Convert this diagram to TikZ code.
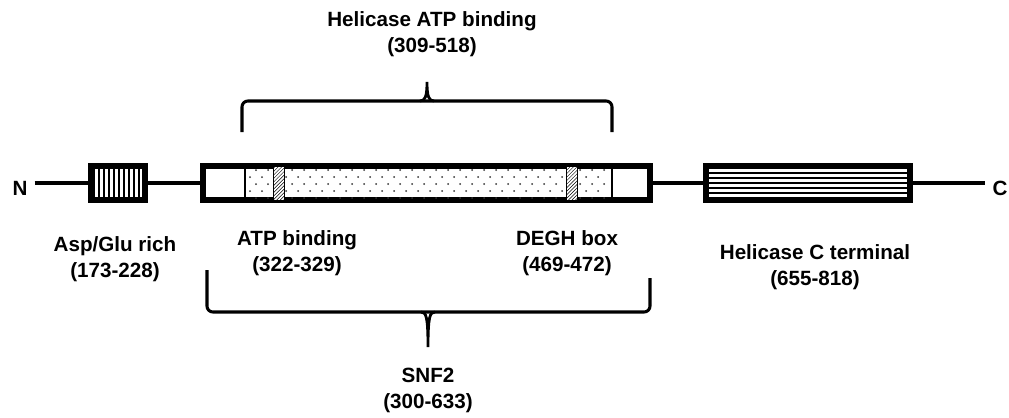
\documentclass[tikz,border=0pt]{standalone}
\usepackage{fontspec}
\setmainfont{Liberation Sans}
\usetikzlibrary{patterns,positioning}

\begin{document}
\begin{tikzpicture}[x=0.03cm,y=-0.03cm]
	\definecolor{color1}{gray}{0.}
	\definecolor{color2}{gray}{0.2}
	\tikzset{
		dombox/.style={draw=color1, line width=5pt, fill=white, inner sep=0pt, minimum height=1.02cm},
		lbl/.style={font=\fontsize{17.6}{22.2}\selectfont\bfseries, align=center, text=color1},
		bracket/.style={line width=2.6pt, rounded corners=5pt, color1},
		tip/.style={line width=2.4pt, color1},
		chainline/.style={line width=2.6pt, color1},
		stripe/.style={line width=1.5pt, color1}
	}
	\useasboundingbox (0,0) rectangle (1009,417);
	%% Ends ------
	\node[lbl] (nterm) at (20,188) {N};
	\node[lbl] (cterm) at (1000,188) {C};
	%% Domains ---------
	\node[dombox, minimum width=1.62cm] (acid) at (118,183) {};
	\node[dombox, minimum width=13.41cm] (snf) at (426.5,183) {};
	\node[dombox, minimum width=6.12cm] (hel) at (808,183) {};
	%% Chain ---------
	\draw[chainline] (nterm.east) ++(3,-5) coordinate (n0) -- (acid.west);
	\draw[chainline] (acid.east) -- (snf.west);
	\draw[chainline] (snf.east) -- (hel.west);
	\draw[chainline] (hel.east) -- ++(72,0) coordinate (c0);
	%% Asp/Glu stripes
	\foreach \x in {94,99,...,144}
		\draw[stripe] (\x,166) -- (\x,200);
	%% SNF2 inner parts
	\foreach \y [count=\i] in {170,177,...,198}
		\foreach \x in {250,262,...,606}
			\fill[color2] ({\x+6*mod(\i,2)},\y) circle (1.0);
	\foreach \a in {273,566}{
		\fill[white] (\a,166) rectangle (\a+11,200);
		\fill[pattern=north east lines] (\a,166) rectangle (\a+11,200);
		\draw[line width=0.8pt] (\a,166) rectangle (\a+11,200);
	}
	\draw[line width=1.6pt] (245,166) -- (245,200);
	\draw[line width=1.6pt] (612,166) -- (612,200);
	%% Helicase C stripes
	\foreach \y in {168,173,...,198}
		\draw[stripe] (708,\y) -- (908,\y);
	%% Braces ---------
	\draw[bracket] (242,132) -- (242,101) -- (612,101) -- (612,132);
	\draw[tip] (420,101) .. controls (425,101) and (427,97) .. (427,82)
		.. controls (427,97) and (429,101) .. (434,101);
	\draw[bracket] (207,270) -- (207,312) -- (650,312) -- (650,278);
	\draw[tip] (421,312) .. controls (426,312) and (428,316) .. (428,347)
		.. controls (428,316) and (430,312) .. (435,312);
	%% Labels ---------
	\node[lbl] (atphel) at (432,34) {Helicase ATP binding\\(309-518)};
	\node[lbl] (asp) at (115,259.5) {Asp/Glu rich\\(173-228)};
	\node[lbl] (atpb) at (297,253.5) {ATP binding\\(322-329)};
	\node[lbl] (degh) at (567,253.5) {DEGH box\\(469-472)};
	\node[lbl] (helc) at (815,267.5) {Helicase C terminal\\(655-818)};
	\node[lbl] (snf2) at (428,390.5) {SNF2\\(300-633)};
\end{tikzpicture}
\end{document}
